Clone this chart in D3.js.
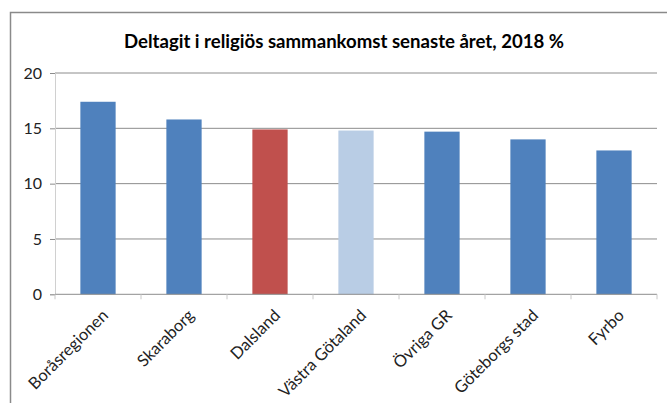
<!DOCTYPE html>
<html>
<head>
<meta charset="utf-8">
<script src="https://cdn.jsdelivr.net/npm/d3@7"></script>
<style>
  html, body { margin: 0; padding: 0; background: #fff; }
  svg { display: block; }
</style>
</head>
<body>
<svg id="chart" width="667" height="403"></svg>
<script>
// Share of people who attended a religious gathering in the past year, by region (2018, %)
const categories = ["Boråsregionen", "Skaraborg", "Dalsland", "Västra Götaland", "Övriga GR", "Göteborgs stad", "Fyrbo"];
const values = [17.4, 15.8, 14.9, 14.8, 14.7, 14.0, 13.0];
const barColors = ["#4F81BD", "#4F81BD", "#C0504D", "#B9CDE5", "#4F81BD", "#4F81BD", "#4F81BD"];
const yTicks = [0, 5, 10, 15, 20];
const title = "Deltagit i religiös sammankomst senaste året, 2018 %";

const svg = d3.select("#chart");
const W = 667, H = 403;
const plot = { left: 55, right: 657, top: 73, bottom: 294.3 };
const font = "Lato, 'Liberation Sans', Arial, sans-serif";

// outer chart frame
svg.append("path")
  .attr("d", `M10.5,${H} L10.5,12.5 L${W},12.5`)
  .attr("fill", "none")
  .attr("stroke", "#8a8a8a")
  .attr("stroke-width", 1.5);

// title
svg.append("text")
  .attr("x", 344)
  .attr("y", 48)
  .attr("text-anchor", "middle")
  .attr("font-family", font)
  .attr("font-weight", "bold")
  .attr("font-size", 18.6)
  .attr("fill", "#000")
  .text(title);

const x = d3.scaleBand()
  .domain(categories)
  .range([plot.left, plot.right])
  .paddingInner(0.59)
  .paddingOuter(0.295);

const y = d3.scaleLinear()
  .domain([0, 20])
  .range([plot.bottom, plot.top]);

// horizontal gridlines
svg.append("g")
  .selectAll("line")
  .data(yTicks.filter(d => d > 0))
  .join("line")
  .attr("x1", plot.left)
  .attr("x2", plot.right)
  .attr("y1", d => y(d))
  .attr("y2", d => y(d))
  .attr("stroke", "#8c8c8c")
  .attr("stroke-width", 1);

// bars
svg.append("g")
  .selectAll("rect")
  .data(values)
  .join("rect")
  .attr("x", (d, i) => x(categories[i]))
  .attr("y", d => y(d))
  .attr("width", x.bandwidth())
  .attr("height", d => plot.bottom - y(d))
  .attr("fill", (d, i) => barColors[i]);

// y axis
const yAxis = svg.append("g")
  .attr("transform", `translate(${plot.left},0)`)
  .call(d3.axisLeft(y).tickValues(yTicks).tickSize(5).tickPadding(8));
yAxis.select(".domain").attr("stroke", "#d0d0d0");
yAxis.selectAll(".tick line").attr("stroke", "#8c8c8c");
yAxis.selectAll(".tick text")
  .attr("font-family", font)
  .attr("font-size", 16)
  .attr("fill", "#222");

// x axis: baseline with tick marks at category boundaries
const xg = svg.append("g");
xg.append("line")
  .attr("x1", plot.left).attr("x2", plot.right)
  .attr("y1", plot.bottom).attr("y2", plot.bottom)
  .attr("stroke", "#8c8c8c");
const step = x.step();
xg.selectAll("line.tick")
  .data(d3.range(categories.length + 1))
  .join("line")
  .attr("class", "tick")
  .attr("x1", i => plot.left + i * step)
  .attr("x2", i => plot.left + i * step)
  .attr("y1", plot.bottom)
  .attr("y2", plot.bottom + 5)
  .attr("stroke", "#c8c8c8");

xg.selectAll("text")
  .data(categories)
  .join("text")
  .attr("transform", d => `translate(${x(d) + x.bandwidth() / 2 + 3},${plot.bottom + 14}) rotate(-45)`)
  .attr("text-anchor", "end")
  .attr("dy", "0.7em")
  .attr("font-family", font)
  .attr("font-size", 16.5)
  .attr("fill", "#222")
  .text(d => d);
</script>
</body>
</html>
